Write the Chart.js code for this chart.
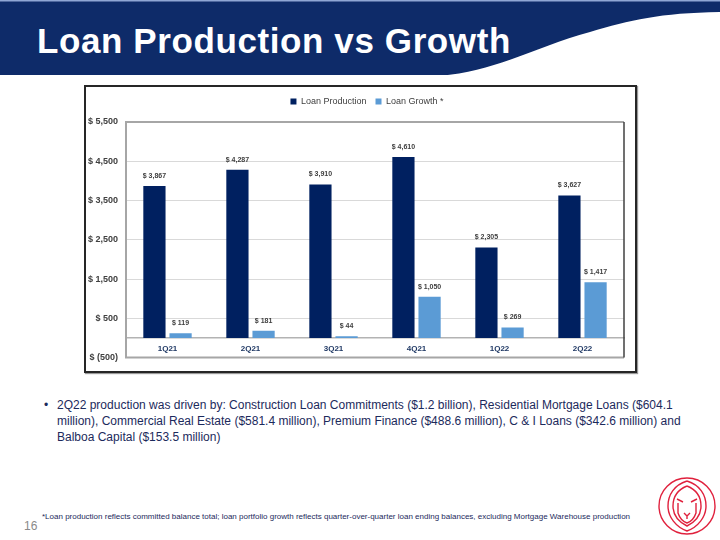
<!DOCTYPE html>
<html>
<head>
<meta charset="utf-8">
<script src="https://cdn.jsdelivr.net/npm/chart.js@4"></script>
<style>
  html, body { margin: 0; padding: 0; background: #fff; }
  body { width: 720px; height: 540px; position: relative; overflow: hidden; font-family: "Liberation Sans", Arial, sans-serif; }
  #header { position: absolute; left: 0; top: 0; }
  #title { position: absolute; left: 37px; top: 21px; color: #fff; font-weight: bold; font-size: 35px; letter-spacing: 0.6px; white-space: nowrap; }
  #box { position: absolute; left: 84px; top: 85px; width: 549px; height: 284px; border: 2px solid #262626; box-shadow: 1px 1px 1px #999; }
  #wrap { position: absolute; left: 86px; top: 87px; width: 549px; height: 284px; }
  #bullets { position: absolute; left: 44px; top: 397px; color: #1c2a5c; font-size: 12px; line-height: 16px; }
  #bullets .dot { position: absolute; left: 0; top: 0; }
  #bullets .txt { position: absolute; left: 13px; top: 0; white-space: nowrap; }
  #foot { position: absolute; left: 42px; top: 512px; color: #1c2a5c; font-size: 8px; white-space: nowrap; }
  #page { position: absolute; left: 24px; top: 519px; color: #8a8a8a; font-size: 12px; }
  #logo { position: absolute; left: 656px; top: 475px; }
</style>
</head>
<body>
<svg id="header" width="720" height="80">
  <rect x="0" y="0" width="720" height="75" fill="#0e2b69"/>
  <rect x="0" y="0" width="720" height="1.5" fill="#8fa6d4"/>
  <path d="M440,76 C500,70 540,45 590,32 C630,20 660,13 720,12 L720,80 L440,80 Z" fill="#ffffff"/>
</svg>
<div id="title">Loan Production vs Growth</div>

<div id="box"></div>
<div id="wrap"><canvas id="chart" width="549" height="284"></canvas></div>

<div id="bullets">
  <span class="dot">&#8226;</span>
  <span class="txt">2Q22 production was driven by: Construction Loan Commitments ($1.2 billion), Residential Mortgage Loans ($604.1<br>million), Commercial Real Estate ($581.4 million), Premium Finance ($488.6 million), C &amp; I Loans ($342.6 million) and<br>Balboa Capital ($153.5 million)</span>
</div>

<div id="foot">*Loan production reflects committed balance total; loan portfolio growth reflects quarter-over-quarter loan ending balances, excluding Mortgage Warehouse production</div>
<div id="page">16</div>

<svg id="logo" width="62" height="62" viewBox="0 0 62 62">
  <g fill="none" stroke="#e0213d" stroke-width="1.4">
    <circle cx="31" cy="31" r="28"/>
    <path d="M31,6 C18,10 12,20 12,31 C12,42 20,52 31,56 C42,52 50,42 50,31 C50,20 44,10 31,6"/>
    <path d="M31,11 C21,15 17,23 17,31 C17,40 23,47 31,51 C39,47 45,40 45,31 C45,23 41,15 31,11"/>
    <path d="M21,24 L27,27 M41,24 L35,27"/>
    <path d="M22,28 L22,38 C24,44 28,47 31,48 C34,47 38,44 40,38 L40,28"/>
    <path d="M28,38 L31,41 L34,38 M31,41 L31,44"/>
  </g>
</svg>

<script>
const categories = ['1Q21', '2Q21', '3Q21', '4Q21', '1Q22', '2Q22'];
const loanProduction = [3867, 4287, 3910, 4610, 2305, 3627];
const loanGrowth = [119, 181, 44, 1050, 269, 1417];
const yTicks = [-500, 500, 1500, 2500, 3500, 4500, 5500];

function money(v) {
  if (v < 0) return '$ (' + Math.abs(v).toLocaleString('en-US') + ')';
  return '$ ' + v.toLocaleString('en-US');
}

// labels above each bar
const barLabels = {
  id: 'barLabels',
  afterDatasetsDraw(chart) {
    const ctx = chart.ctx;
    ctx.save();
    ctx.font = 'bold 7px "Liberation Sans", Arial, sans-serif';
    ctx.fillStyle = '#404040';
    ctx.textAlign = 'center';
    ctx.textBaseline = 'middle';
    chart.data.datasets.forEach((ds, i) => {
      chart.getDatasetMeta(i).data.forEach((bar, j) => {
        ctx.fillText(money(ds.data[j]), bar.x, bar.y - 10);
      });
    });
    ctx.restore();
  }
};

// extra room under the legend, and nudge it right a bit
const legendGap = {
  id: 'legendGap',
  beforeInit(chart) {
    const fit = chart.legend.fit;
    chart.legend.fit = function () {
      fit.call(this);
      this.height += 6;
    };
  },
  afterLayout(chart) {
    chart.legend.left += 12;
    chart.legend.right += 12;
  }
};

// gray frame round the plot area
const plotFrame = {
  id: 'plotFrame',
  afterDraw(chart) {
    const a = chart.chartArea;
    const ctx = chart.ctx;
    ctx.save();
    ctx.strokeStyle = '#a6a6a6';
    ctx.lineWidth = 2;
    ctx.beginPath();
    ctx.moveTo(a.right, a.top);
    ctx.lineTo(a.left, a.top);
    ctx.lineTo(a.left, a.bottom);
    ctx.lineTo(a.right, a.bottom);
    ctx.stroke();
    ctx.strokeStyle = '#404040';
    ctx.lineWidth = 1.5;
    ctx.beginPath();
    ctx.moveTo(a.right, a.top);
    ctx.lineTo(a.right, a.bottom);
    ctx.stroke();
    ctx.restore();
  }
};

new Chart(document.getElementById('chart'), {
  type: 'bar',
  data: {
    labels: categories,
    datasets: [
      { label: 'Loan Production', data: loanProduction, backgroundColor: '#002060' },
      { label: 'Loan Growth *', data: loanGrowth, backgroundColor: '#5b9bd5' }
    ]
  },
  options: {
    responsive: false,
    animation: false,
    layout: { padding: { top: 1, left: 0, right: 11, bottom: 12 } },
    categoryPercentage: 0.63,
    barPercentage: 0.85,
    plugins: {
      legend: {
        position: 'top',
        labels: {
          boxWidth: 6,
          boxHeight: 6,
          padding: 9,
          color: '#404040',
          font: { size: 9, family: '"Liberation Sans", Arial, sans-serif' }
        }
      },
      tooltip: { enabled: false }
    },
    scales: {
      x: {
        position: { y: 0 },
        grid: { display: false, drawTicks: false },
        border: { display: true, color: '#b3b3b3', width: 1.5 },
        ticks: {
          color: '#1f3864',
          padding: 6,
          font: { size: 8, weight: 'bold', family: '"Liberation Sans", Arial, sans-serif' }
        }
      },
      y: {
        min: yTicks[0],
        max: yTicks[yTicks.length - 1],
        afterFit(scale) { scale.width = 40; },
        afterBuildTicks(scale) { scale.ticks = yTicks.map(v => ({ value: v })); },
        grid: { color: '#d9d9d9', lineWidth: 1, drawTicks: false },
        border: { display: false },
        ticks: {
          stepSize: 1000,
          padding: 8,
          color: '#404040',
          font: { size: 9, weight: 'bold', family: '"Liberation Sans", Arial, sans-serif' },
          callback: v => money(v)
        }
      }
    }
  },
  plugins: [barLabels, legendGap, plotFrame]
});
</script>
</body>
</html>
